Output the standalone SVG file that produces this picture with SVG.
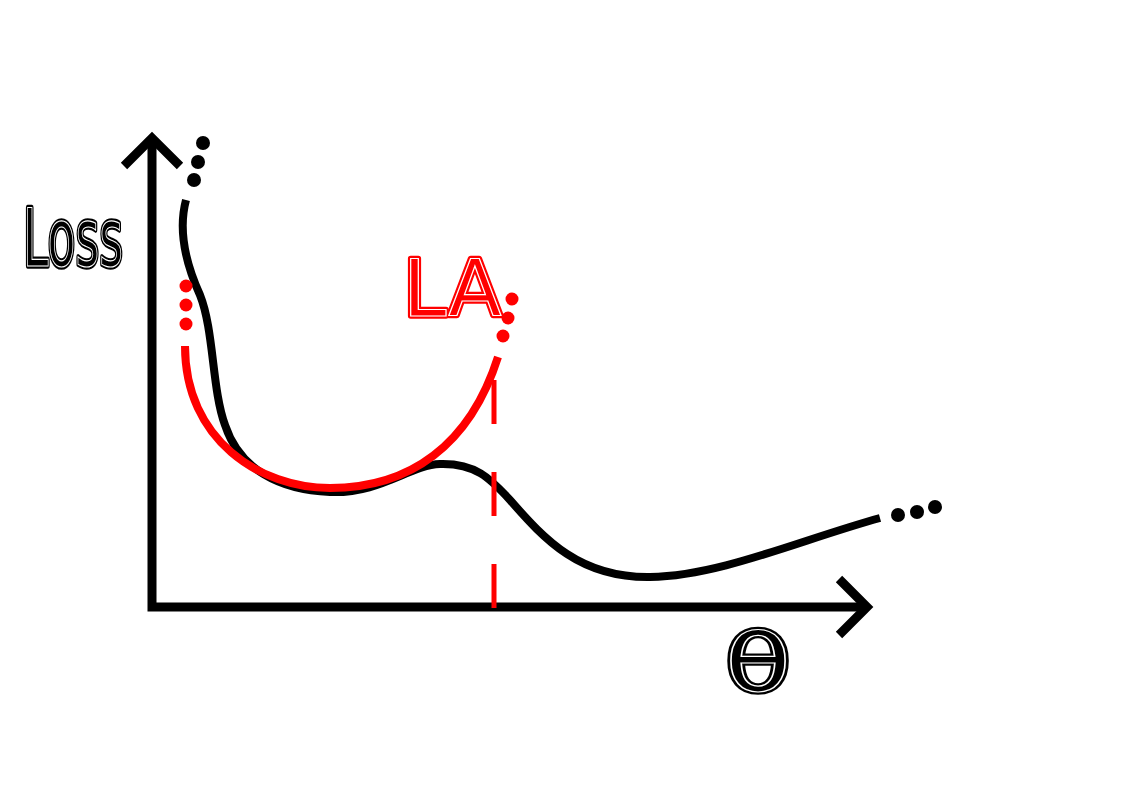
<svg xmlns="http://www.w3.org/2000/svg" width="1123" height="794" viewBox="0 0 1123 794">
<style>
.axis{fill:none;stroke:#000;stroke-width:9;stroke-linejoin:miter;stroke-linecap:butt}
.loss{fill:none;stroke:#000;stroke-width:8;stroke-linecap:butt}
.approx{fill:none;stroke:#f00;stroke-width:8;stroke-linecap:butt}
.dash{fill:none;stroke:#f00;stroke-width:5;stroke-dasharray:44 48}
.bdot{fill:#000}
.rdot{fill:#f00}
.lblOuter{font-family:"DejaVu Sans",sans-serif;stroke-width:5.5;stroke-linejoin:round}
.lblInner{font-family:"DejaVu Sans",sans-serif;stroke:#fff;stroke-width:1.2}
</style>
<rect width="1123" height="794" fill="#fff"/>
<g id="axes">
  <path class="axis" d="M152,138 V607 H867"/>
  <path class="axis" d="M124,166 L152,138 L180,166"/>
  <path class="axis" d="M839,579 L867,607 L839,635"/>
</g>
<g id="connectors">
  <path id="loss-curve" class="loss" d="M186,200 C178,230 185,262 200,295 C214,330 212,390 225,425 C240,470 280,490 330,492 C380,494 410,465 440,464 C475,463 490,478 510,500 C545,540 580,578 650,577 C720,576 800,540 880,518"/>
  <path id="la-curve" class="approx" d="M185,346 C185,440 260,488 330,488 C410,488 470,445 498,357"/>
  <path id="la-line" class="dash" d="M494,380 V608"/>
</g>
<g id="dots-top">
  <circle class="bdot" cx="203" cy="143" r="7"/>
  <circle class="bdot" cx="198" cy="162" r="7"/>
  <circle class="bdot" cx="194" cy="180" r="7"/>
</g>
<g id="dots-right">
  <circle class="bdot" cx="898" cy="515" r="7"/>
  <circle class="bdot" cx="917" cy="512" r="7"/>
  <circle class="bdot" cx="935" cy="507" r="7"/>
</g>
<g id="dots-red-left">
  <circle class="rdot" cx="186" cy="286" r="6.5"/>
  <circle class="rdot" cx="186" cy="305" r="6.5"/>
  <circle class="rdot" cx="186" cy="324" r="6.5"/>
</g>
<g id="dots-red-right">
  <circle class="rdot" cx="512" cy="299" r="6.5"/>
  <circle class="rdot" cx="508" cy="318" r="6.5"/>
  <circle class="rdot" cx="503" cy="336" r="6.5"/>
</g>
<g id="label-loss">
  <text class="lblOuter" x="23" y="266" font-size="80" textLength="100" lengthAdjust="spacingAndGlyphs" fill="#000" stroke="#000">Loss</text>
  <text class="lblInner" x="23" y="266" font-size="80" textLength="100" lengthAdjust="spacingAndGlyphs" fill="#000">Loss</text>
</g>
<g id="label-la">
  <text class="lblOuter" x="403" y="316" font-size="78" fill="#f00" stroke="#f00">LA</text>
  <text class="lblInner" x="403" y="316" font-size="78" fill="#f00">LA</text>
</g>
<g id="label-theta">
  <text class="lblOuter" x="725" y="691" font-size="80" textLength="66" lengthAdjust="spacingAndGlyphs" fill="#000" stroke="#000">θ</text>
  <text class="lblInner" x="725" y="691" font-size="80" textLength="66" lengthAdjust="spacingAndGlyphs" fill="#000">θ</text>
</g>
</svg>
